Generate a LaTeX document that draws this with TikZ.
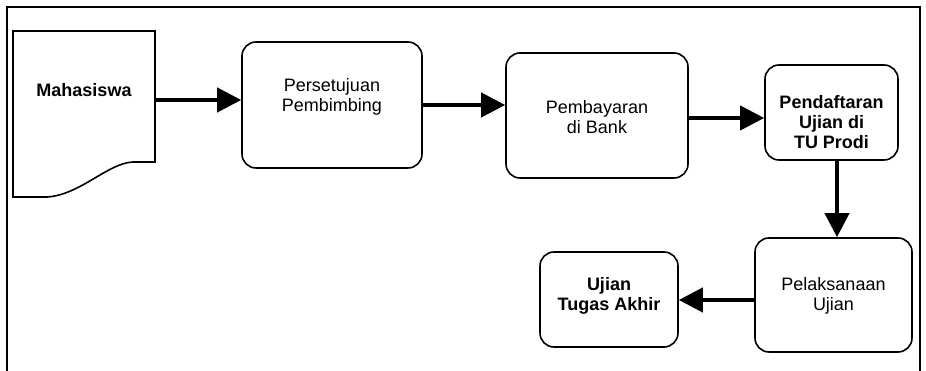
\documentclass[tikz,border=0pt]{standalone}
\usepackage{fontspec}
\setmainfont{Liberation Sans}
\usetikzlibrary{arrows.meta}
\tikzset{
  box/.style={draw, line width=1.6pt, rounded corners=14pt, inner sep=0pt},
  txt/.style={align=center, font=\fontsize{18}{20}\selectfont, inner sep=0pt},
  btxt/.style={txt, font=\fontsize{18}{20}\selectfont\bfseries},
  flow/.style={line width=4pt, -{Triangle[length=24pt,width=24pt]}},
  frame/.style={line width=1.6pt}
}
\begin{document}
\begin{tikzpicture}[x=1pt,y=1pt]
\useasboundingbox (0,0) rectangle (926,371);
% outer frame (open at bottom)
\coordinate (fbl) at (7,-2);
\coordinate (ftl) at (7,364);
\coordinate (ftr) at (920,364);
\coordinate (fbr) at (920,-2);
\draw[frame] (fbl) -- (ftl) -- (ftr) -- (fbr);
% document shape
\draw[line width=1.6pt] (13,340) -- (155,340) -- (155,209) -- (133,209)
   .. controls (108,208) and (80,176) .. (47,174) -- (13,174) -- cycle;
\coordinate (doc) at (84,271);
\coordinate (docE) at (155,271);
\node[btxt] (t1) at (84,281) {Mahasiswa};
% boxes
\node[box, minimum width=180pt, minimum height=126pt] (b2) at (332,266) {};
\node[txt] (t2) at (332,274) {Persetujuan\\Pembimbing};
\node[box, minimum width=182pt, minimum height=125pt] (b3) at (597,255.5) {};
\node[txt] (t3) at (597,254) {Pembayaran\\di Bank};
\node[box, minimum width=133pt, minimum height=95pt] (b4) at (831.5,258.5) {};
\node[btxt] (t4) at (831.5,249) {Pendaftaran\\Ujian di\\TU Prodi};
\node[box, minimum width=157pt, minimum height=114pt] (b5) at (833.5,76) {};
\node[txt] (t5) at (833.5,75) {Pelaksanaan\\Ujian};
\node[box, minimum width=138pt, minimum height=95pt] (b6) at (609,71.5) {};
\node[btxt] (t6) at (609,75) {Ujian\\Tugas Akhir};
% connectors
\draw[flow] (docE) -- (b2.west |- docE);
\draw[flow] (b2.east |- 0,266) -- (b3.west |- 0,266);
\draw[flow] (b3.east |- 0,253) -- (b4.west |- 0,253);
\draw[flow] (b4.south -| 837,0) -- (b5.north -| 837,0);
\draw[flow] (b5.west |- 0,71) -- (b6.east |- 0,71);
\end{tikzpicture}
\end{document}
